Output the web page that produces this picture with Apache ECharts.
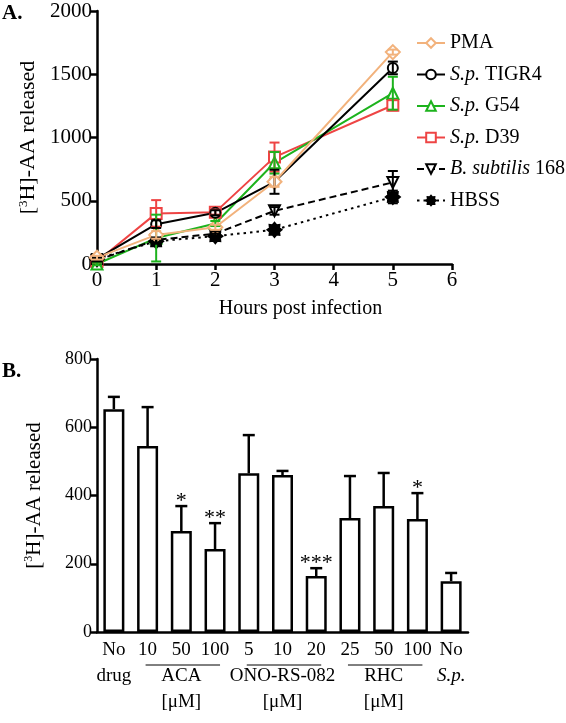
<!DOCTYPE html>
<html><head><meta charset="utf-8">
<script src="https://cdn.jsdelivr.net/npm/echarts@6/dist/echarts.min.js"></script>
<style>html,body{margin:0;padding:0;background:#fff}#c{width:566px;height:723px}</style>
</head><body><div id="c"></div>
<script>
// ---------- Panel A data ----------
const hours = [0, 1, 2, 3, 5];
const pma      = [50, 230, 290, 650, 1675];
const pmaErr   = [15, 30, 20, 40, 20];
const tigr4    = [40, 315, 405, 650, 1550];
const tigr4Err = [10, 30, 20, 95, 50];
const g54      = [0, 205, 320, 800, 1350];
const g54Err   = [10, 185, 20, 85, 130];
const d39      = [20, 400, 410, 845, 1255];
const d39Err   = [10, 105, 20, 115, 40];
const bsub     = [30, 190, 240, 420, 645];
const bsubErr  = [10, 20, 20, 30, 90];
const hbss     = [40, 180, 220, 270, 530];
const hbssErr  = [10, 20, 20, 20, 50];
const xTicksA = [0, 1, 2, 3, 4, 5, 6];
const yTicksA = [0, 500, 1000, 1500, 2000];

// ---------- Panel B data ----------
const barRow1 = ['No', '10', '50', '100', '5', '10', '20', '25', '50', '100', 'No'];
const barRow2 = ['drug', '', 'ACA', '', '', 'ONO-RS-082', '', '', 'RHC', '', 'S.p.'];
const barRow3 = ['', '', '[μM]', '', '', '[μM]', '', '', '[μM]', '', ''];
const barValues = [653, 545, 296, 243, 465, 460, 164, 334, 369, 331, 149];
const barErr    = [36, 114, 73, 76, 112, 12, 23, 123, 97, 76, 24];
const barStars  = ['', '', '*', '**', '', '', '***', '', '', '*', ''];
const groupLines = [[1, 3], [4, 6], [7, 9]];
const yTicksB = [0, 200, 400, 600, 800];

const F = 'Liberation Serif';
const axisLine = {lineStyle: {color: '#000', width: 2.5}};
const axisTick = {inside: false, length: 6, lineStyle: {color: '#000', width: 2.5}};

// 8-point star path (style only)
function starPath(n, r1, r2) {
  let s = 'path://';
  for (let i = 0; i < n * 2; i++) {
    const r = i % 2 ? r2 : r1, a = Math.PI * i / n;
    s += (i ? 'L' : 'M') + (r * Math.cos(a)).toFixed(3) + ' ' + (r * Math.sin(a)).toFixed(3);
  }
  return s + 'Z';
}
const star = starPath(8, 1, 0.72);

function pts(ys) { return hours.map((h, i) => [h, ys[i]]); }
function errPts(ys, es) { return hours.map((h, i) => [h, ys[i] - es[i], ys[i] + es[i]]); }

function lineSeries(name, ys, color, symbol, size, filled, type) {
  return {
    name, type: 'line', xAxisIndex: 0, yAxisIndex: 0, data: pts(ys),
    symbol, symbolSize: size, showAllSymbol: true,
    lineStyle: {color, width: 2, type: type || 'solid'},
    itemStyle: {color: filled ? color : '#fff', borderColor: color, borderWidth: 2},
    z: 3
  };
}
function errSeries(ys, es, color) {
  return {
    type: 'custom', xAxisIndex: 0, yAxisIndex: 0, data: errPts(ys, es), z: 4,
    renderItem(params, api) {
      const x = api.value(0);
      const a = api.coord([x, api.value(1)]), b = api.coord([x, api.value(2)]);
      const w = 5, st = {stroke: color, lineWidth: 2};
      return {type: 'group', children: [
        {type: 'line', shape: {x1: a[0], y1: a[1], x2: b[0], y2: b[1]}, style: st},
        {type: 'line', shape: {x1: a[0] - w, y1: a[1], x2: a[0] + w, y2: a[1]}, style: st},
        {type: 'line', shape: {x1: b[0] - w, y1: b[1], x2: b[0] + w, y2: b[1]}, style: st}
      ]};
    }
  };
}

const cPMA = '#F2B27C', cT = '#000', cG = '#1DB31D', cD = '#EE4444';
const plain = v => String(v);

const option = {
  animation: false,
  textStyle: {fontFamily: F},
  graphic: [
    {type: 'text', left: 2, top: 3, style: {text: 'A.', font: 'bold 21px ' + F, fill: '#000'}},
    {type: 'text', left: 2, top: 361, style: {text: 'B.', font: 'bold 21px ' + F, fill: '#000'}}
  ],
  legend: {
    orient: 'vertical', left: 411, top: 28, itemWidth: 28, itemHeight: 12, itemGap: 11.5,
    textStyle: {fontFamily: F, fontSize: 20, color: '#000',
      rich: {i: {fontFamily: F, fontSize: 20, fontStyle: 'italic', color: '#000'}}},
    formatter(name) {
      if (name.startsWith('S.p. ')) return '{i|S.p.} ' + name.slice(5);
      if (name.startsWith('B. subtilis')) return '{i|B. subtilis} 168';
      return name;
    },
    data: ['PMA', 'S.p. TIGR4', 'S.p. G54', 'S.p. D39', 'B. subtilis 168', 'HBSS']
  },
  grid: [
    {left: 97, top: 11, width: 355, height: 253},
    {left: 97, top: 359, width: 371, height: 273}
  ],
  xAxis: [
    {type: 'value', gridIndex: 0, min: xTicksA[0], max: xTicksA[xTicksA.length - 1], interval: 1,
     axisLine, axisTick, splitLine: {show: false},
     axisLabel: {fontFamily: F, fontSize: 21, color: '#000', margin: 6, formatter: plain},
     name: 'Hours post infection', nameLocation: 'middle', nameGap: 35,
     nameTextStyle: {fontFamily: F, fontSize: 20, color: '#000', padding: [0, 0, 0, 52]}},
    {type: 'category', gridIndex: 1, data: barRow1, axisLine, axisTick: {show: false},
     axisLabel: {interval: 0, fontFamily: F, fontSize: 19, color: '#000', margin: 5, lineHeight: 26,
       rich: {i: {fontFamily: F, fontSize: 19, fontStyle: 'italic', color: '#000', lineHeight: 26}},
       formatter(v, idx) {
         let s = barRow1[idx];
         const r2 = barRow2[idx] === 'S.p.' ? '{i|S.p.}' : barRow2[idx];
         if (barRow2[idx] || barRow3[idx]) s += '\n' + r2;
         if (barRow3[idx]) s += '\n' + barRow3[idx];
         return s;
       }}}
  ],
  yAxis: [
    {type: 'value', gridIndex: 0, min: yTicksA[0], max: yTicksA[yTicksA.length - 1], interval: 500,
     axisLine: {show: true, lineStyle: {color: '#000', width: 2.5}}, axisTick: {show: true, length: 6, lineStyle: {color: '#000', width: 2.5}},
     splitLine: {show: false},
     axisLabel: {fontFamily: F, fontSize: 21, color: '#000', margin: 5, formatter: plain},
     name: '[{s|3}H]-AA released', nameLocation: 'middle', nameGap: 45,
     nameTextStyle: {fontFamily: F, fontSize: 22, color: '#000',
       rich: {s: {fontFamily: F, fontSize: 13, color: '#000', verticalAlign: 'top', padding: [0, 0, 10, 0]}}}},
    {type: 'value', gridIndex: 1, min: yTicksB[0], max: yTicksB[yTicksB.length - 1], interval: 200,
     axisLine: {show: true, lineStyle: {color: '#000', width: 2.5}}, axisTick: {show: true, length: 6, lineStyle: {color: '#000', width: 2.5}},
     splitLine: {show: false},
     axisLabel: {fontFamily: F, fontSize: 18, color: '#000', margin: 5, formatter: plain},
     name: '[{s|3}H]-AA released', nameLocation: 'middle', nameGap: 52,
     nameTextStyle: {fontFamily: F, fontSize: 21, color: '#000',
       rich: {s: {fontFamily: F, fontSize: 12, color: '#000', verticalAlign: 'top', padding: [0, 0, 10, 0]}}}}
  ],
  series: [
    lineSeries('S.p. D39', d39, cD, 'rect', 11, false),
    lineSeries('S.p. G54', g54, cG, 'triangle', 11, false),
    lineSeries('S.p. TIGR4', tigr4, cT, 'circle', 10, false),
    lineSeries('B. subtilis 168', bsub, cT, 'path://M0 0L10 0L5 9Z', 11, false, [7, 4]),
    lineSeries('HBSS', hbss, cT, star, 14, true, [2.5, 4]),
    lineSeries('PMA', pma, cPMA, 'diamond', 14, false),
    errSeries(d39, d39Err, cD), errSeries(g54, g54Err, cG), errSeries(tigr4, tigr4Err, cT),
    errSeries(bsub, bsubErr, cT), errSeries(hbss, hbssErr, cT), errSeries(pma, pmaErr, cPMA),
    {type: 'bar', xAxisIndex: 1, yAxisIndex: 1, data: barValues, barWidth: 21,
     itemStyle: {color: '#fff', borderColor: '#000', borderWidth: 2.5}, z: 2},
    {type: 'custom', xAxisIndex: 1, yAxisIndex: 1, z: 3,
     data: barValues.map((v, i) => [i, v, v + barErr[i]]),
     renderItem(params, api) {
       const i = api.value(0);
       const a = api.coord([i, api.value(1)]), b = api.coord([i, api.value(2)]);
       const w = 6, st = {stroke: '#000', lineWidth: 2.5};
       const ch = [
         {type: 'line', shape: {x1: a[0], y1: a[1], x2: b[0], y2: b[1]}, style: st},
         {type: 'line', shape: {x1: b[0] - w, y1: b[1], x2: b[0] + w, y2: b[1]}, style: st}
       ];
       if (barStars[i]) ch.push({type: 'text', x: b[0], y: b[1] + 6,
         style: {text: barStars[i], font: '22px ' + F, fill: '#000', align: 'center', verticalAlign: 'bottom'}});
       return {type: 'group', children: ch};
     }},
    {type: 'custom', xAxisIndex: 1, yAxisIndex: 1, z: 3, clip: false,
     data: groupLines,
     renderItem(params, api) {
       const a = api.coord([api.value(0), 0]), b = api.coord([api.value(1), 0]);
       const y = a[1] + 33;
       return {type: 'line', shape: {x1: a[0] - 2, y1: y, x2: b[0] + 5, y2: y}, style: {stroke: '#000', lineWidth: 1}};
     }}
  ]
};
const chart = echarts.init(document.getElementById('c'));
chart.setOption(option);
</script></body></html>
